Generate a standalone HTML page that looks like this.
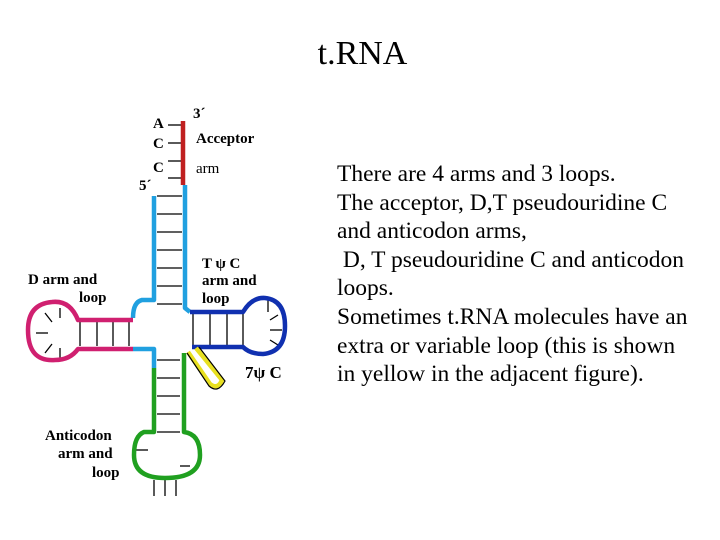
<!DOCTYPE html>
<html><head><style>
body{margin:0;width:720px;height:540px;background:#fff;position:relative;overflow:hidden;font-family:"Liberation Serif",serif}
#t{position:absolute;left:0;width:725px;top:35px;text-align:center;font-size:34px}
#p{position:absolute;left:337px;top:160px;font-size:23.5px;line-height:28.6px;width:390px;white-space:nowrap}
</style></head><body>
<div id="t">t.RNA</div>
<div id="p">There are 4 arms and 3 loops.<br>The acceptor, D,T pseudouridine C<br>and anticodon arms,<br>&nbsp;D, T pseudouridine C and anticodon<br>loops.<br>Sometimes t.RNA molecules have an<br>extra or variable loop (this is shown<br>in yellow in the adjacent figure).</div>
<svg width="720" height="540" style="position:absolute;left:0;top:0" font-family="Liberation Serif,serif" font-weight="bold" font-size="15">
<g stroke="#000" stroke-width="1.3">
<line x1="168" y1="125" x2="182" y2="125"/><line x1="168" y1="143" x2="182" y2="143"/><line x1="168" y1="161" x2="182" y2="161"/><line x1="168" y1="178" x2="182" y2="178"/>
<line x1="157" y1="196" x2="182" y2="196"/><line x1="157" y1="214" x2="182" y2="214"/><line x1="157" y1="232" x2="182" y2="232"/><line x1="157" y1="250" x2="182" y2="250"/><line x1="157" y1="268" x2="182" y2="268"/><line x1="157" y1="286" x2="182" y2="286"/><line x1="157" y1="304" x2="182" y2="304"/>
<line x1="80" y1="320" x2="80" y2="346"/><line x1="97" y1="320" x2="97" y2="346"/><line x1="113" y1="320" x2="113" y2="346"/><line x1="129" y1="320" x2="129" y2="346"/>
<line x1="193" y1="312" x2="193" y2="345"/><line x1="210" y1="312" x2="210" y2="345"/><line x1="227" y1="312" x2="227" y2="345"/><line x1="243" y1="312" x2="243" y2="345"/>
<line x1="157" y1="360" x2="180" y2="360"/><line x1="157" y1="378" x2="180" y2="378"/><line x1="157" y1="396" x2="180" y2="396"/><line x1="157" y1="414" x2="180" y2="414"/><line x1="157" y1="432" x2="180" y2="432"/>
<line x1="154" y1="480" x2="154" y2="496"/><line x1="165" y1="480" x2="165" y2="496"/><line x1="176" y1="480" x2="176" y2="496"/>
<line x1="36" y1="333" x2="48" y2="333"/><line x1="45" y1="313" x2="52" y2="322"/><line x1="45" y1="353" x2="52" y2="344"/><line x1="60" y1="308" x2="60" y2="318"/><line x1="60" y1="358" x2="60" y2="348"/>
<line x1="268" y1="300" x2="268" y2="312"/><line x1="282" y1="330" x2="270" y2="330"/><line x1="278" y1="315" x2="270" y2="320"/><line x1="278" y1="345" x2="270" y2="340"/>
<line x1="136" y1="450" x2="148" y2="450"/><line x1="180" y1="466" x2="190" y2="466"/>
</g>
<g fill="none" stroke-width="4.5" stroke-linejoin="round">
<path d="M183 121 V185" stroke="#c02020"/>
<path d="M185 185 V308 L190 312" stroke="#20a0e0"/>
<path d="M154 196 V300 H142 Q133 302 133 318" stroke="#20a0e0"/>
<path d="M133 320 H78 Q70 300 52 302 Q28 304 28 330 Q28 362 55 360 Q70 360 78 349 H133" stroke="#d02070"/>
<path d="M133 349 H154 V368" stroke="#20a0e0"/>
<path d="M154 368 V432 H144 Q134 436 134 455 Q134 478 165 478 Q200 478 200 455 Q200 434 184 432 V353" stroke="#20a020"/>
<path d="M190 312 H243 Q252 297 265 298 Q285 300 285 326 Q285 352 263 354 Q250 354 243 347 H192" stroke="#1030b0"/>
<path d="M188 352 L210 384 Q218 390 222 380 L196 348" stroke="#e8e020"/>
</g>
<g fill="none" stroke="#000" stroke-width="1.2">
<path d="M187 353 L209 386 Q218 394 225 381 L199 347"/>
</g>
<text x="153" y="128">A</text><text x="153" y="148">C</text><text x="153" y="172">C</text>
<text x="193" y="118">3´</text><text x="139" y="190">5´</text>
<text x="196" y="143">Acceptor</text><text x="196" y="173" font-weight="normal">arm</text>
<text x="202" y="268">T ψ C</text><text x="202" y="285">arm and</text><text x="202" y="303">loop</text>
<text x="28" y="284">D arm and</text><text x="79" y="302">loop</text>
<text x="245" y="378" font-size="17">7ψ C</text>
<text x="45" y="440">Anticodon</text><text x="58" y="458">arm and</text><text x="92" y="477">loop</text>
</svg>
</body></html>
